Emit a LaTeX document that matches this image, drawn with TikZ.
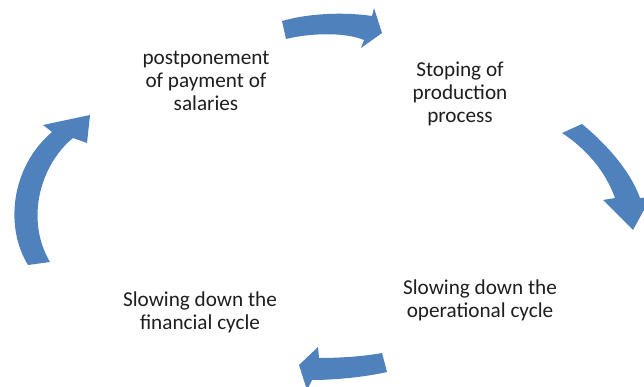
\documentclass[tikz,border=0pt]{standalone}
\usepackage{fontspec}
\setmainfont{Carlito}
\definecolor{arrowblue}{RGB}{79,129,189}
\definecolor{txt}{RGB}{30,30,30}
\begin{document}
\begin{tikzpicture}[x=1pt,y=-1pt,
  lbl/.style={align=center,text=txt,font=\fontsize{21.2}{23}\selectfont,inner sep=0pt},
  arr/.style={fill=arrowblue}]
\useasboundingbox (0,0) rectangle (644,387);
\clip (0,0) rectangle (644,387);
% top arrow
\fill[arr] (282,21) .. controls (310,13) and (345,12) .. (372,16) -- (374,8) -- (382,33) -- (361,48) -- (364,40)
  .. controls (345,32) and (310,33) .. (286,39) -- cycle;
% right arrow
\fill[arr] (562,133) -- (582,124) .. controls (605,143) and (630,170) .. (640,198) -- (651,197) -- (633,230) -- (603,200) -- (615,198)
  .. controls (605,170) and (585,148) .. (562,133) -- cycle;
% bottom arrow
\fill[arr] (387,372) -- (382,353) .. controls (360,357) and (335,358) .. (319,358) -- (318,347) -- (299,365) -- (307,390) -- (312,380)
  .. controls (335,380) and (365,377) .. (387,372) -- cycle;
% left arrow
\fill[arr] (50,262) -- (28,265) .. controls (5,228) and (10,168) .. (52,132) -- (43,125) -- (90,115) -- (87,143) -- (73,138)
  .. controls (40,165) and (25,220) .. (50,262) -- cycle;
\node[lbl] (a) at (206,81) {postponement\\of payment of\\salaries};
\node[lbl] (b) at (460,93.5) {Stoping of\\production\\process};
\node[lbl] (c) at (480,300) {Slowing down the\\operational cycle};
\node[lbl] (d) at (200,312) {Slowing down the\\financial cycle};
\end{tikzpicture}
\end{document}
